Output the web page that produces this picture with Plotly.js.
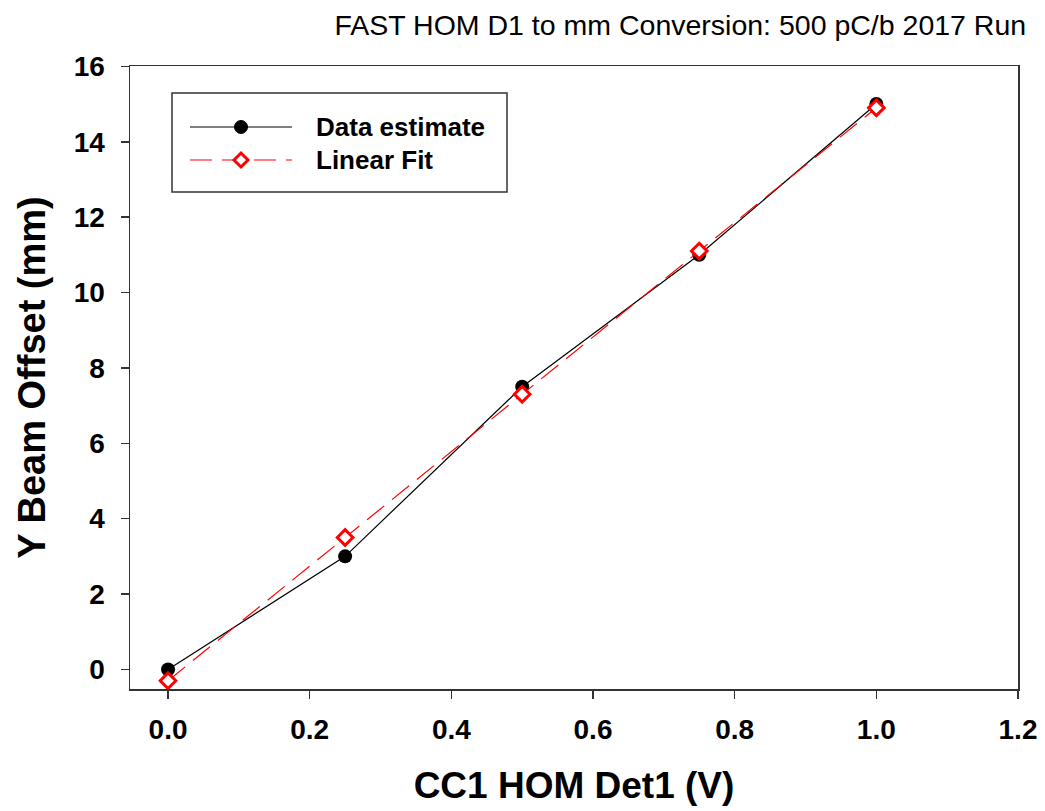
<!DOCTYPE html>
<html>
<head>
<meta charset="utf-8">
<script src="https://cdn.plot.ly/plotly-3.0.1.min.js"></script>
<style>
  html, body { margin: 0; padding: 0; background: #fff; }
  #chart { width: 1045px; height: 811px; }
</style>
</head>
<body>
<div id="chart"></div>
<script>
// ---- data ----
const xValues = [0.0, 0.25, 0.5, 0.75, 1.0];
const dataEstimate = [0.0, 3.0, 7.5, 11.0, 15.0];
const linearFit = [-0.3, 3.5, 7.3, 11.1, 14.9];
const seriesNames = ['Data estimate', 'Linear Fit'];
const xTickVals = [0.0, 0.2, 0.4, 0.6, 0.8, 1.0, 1.2];
const xTickText = ['0.0', '0.2', '0.4', '0.6', '0.8', '1.0', '1.2'];
const yTickVals = [0, 2, 4, 6, 8, 10, 12, 14, 16];
const chartTitle = 'FAST HOM D1 to mm Conversion: 500 pC/b 2017 Run';
const xTitle = 'CC1 HOM Det1 (V)';
const yTitle = 'Y Beam Offset (mm)';

// ---- layout geometry ----
const W = 1045, H = 811;
const M = { l: 130, r: 27, t: 66, b: 122 };
const PW = W - M.l - M.r, PH = H - M.t - M.b;
const px = x => (x - M.l) / PW;       // pixel -> paper x
const py = y => (H - M.b - y) / PH;   // pixel -> paper y
const FONT = 'Liberation Sans, Arial, Helvetica, sans-serif';

const traces = [
  {
    x: xValues, y: dataEstimate, name: seriesNames[0],
    type: 'scatter', mode: 'lines+markers', showlegend: false,
    line: { color: '#000000', width: 1.2 },
    marker: { symbol: 'circle', size: 14, color: '#000000' }
  },
  {
    x: xValues, y: linearFit, name: seriesNames[1],
    type: 'scatter', mode: 'lines+markers', showlegend: false,
    line: { color: '#ff0000', width: 1.2, dash: '22px,10px' },
    marker: { symbol: 'diamond', size: 12, color: '#ffffff', line: { color: '#ff0000', width: 3 } }
  }
];

// manual legend (box, sample lines, sample markers, texts)
const lg = { x0: 172, y0: 93, x1: 507, y1: 192, row1: 127, row2: 160, lx0: 190, lx1: 292, mx: 241, tx: 314 };
const shapes = [
  { type: 'rect', xref: 'paper', yref: 'paper', x0: px(lg.x0), x1: px(lg.x1), y0: py(lg.y1), y1: py(lg.y0),
    line: { color: '#333333', width: 1.5 }, fillcolor: 'rgba(255,255,255,1)' },
  { type: 'line', xref: 'paper', yref: 'paper', x0: px(lg.lx0), x1: px(lg.lx1), y0: py(lg.row1), y1: py(lg.row1),
    line: { color: '#000000', width: 1.2 } },
  { type: 'circle', xref: 'paper', yref: 'paper', x0: px(lg.mx - 6.5), x1: px(lg.mx + 6.5), y0: py(lg.row1 + 6.5), y1: py(lg.row1 - 6.5),
    line: { color: '#000000', width: 1 }, fillcolor: '#000000' },
  { type: 'line', xref: 'paper', yref: 'paper', x0: px(lg.lx0), x1: px(lg.lx1), y0: py(lg.row2), y1: py(lg.row2),
    line: { color: '#ff0000', width: 1.2, dash: '22px,10px' } },
  { type: 'path', xref: 'paper', yref: 'paper',
    path: `M ${px(lg.mx - 7)} ${py(lg.row2)} L ${px(lg.mx)} ${py(lg.row2 - 7)} L ${px(lg.mx + 7)} ${py(lg.row2)} L ${px(lg.mx)} ${py(lg.row2 + 7)} Z`,
    line: { color: '#ff0000', width: 3 }, fillcolor: '#ffffff' }
];
const annotations = [
  { xref: 'paper', yref: 'paper', x: px(lg.tx), y: py(lg.row1), xanchor: 'left', yanchor: 'middle', showarrow: false,
    text: seriesNames[0], font: { family: FONT, size: 26, weight: 'bold', color: '#000000' } },
  { xref: 'paper', yref: 'paper', x: px(lg.tx), y: py(lg.row2), xanchor: 'left', yanchor: 'middle', showarrow: false,
    text: seriesNames[1], font: { family: FONT, size: 26, weight: 'bold', color: '#000000' } }
];

const axisCommon = {
  showgrid: false, zeroline: false,
  showline: true, linecolor: '#333333', linewidth: 1.5, mirror: true,
  ticks: 'outside', ticklen: 8, tickwidth: 1.5, tickcolor: '#333333',
  tickfont: { family: FONT, size: 28, weight: 'bold', color: '#000000' }
};

const layout = {
  width: W, height: H,
  margin: M,
  paper_bgcolor: '#ffffff', plot_bgcolor: '#ffffff',
  showlegend: false,
  title: {
    text: chartTitle, x: 0.651, xanchor: 'center', xref: 'container',
    y: 1 - 25 / H, yanchor: 'middle', yref: 'container',
    font: { family: FONT, size: 28.5, color: '#000000' }
  },
  xaxis: Object.assign({}, axisCommon, {
    range: [-0.0537, 1.2], tickmode: 'array', tickvals: xTickVals, ticktext: xTickText,
    ticklabelstandoff: 7,
    title: { text: xTitle, standoff: 28, font: { family: FONT, size: 37, weight: 'bold', color: '#000000' } }
  }),
  yaxis: Object.assign({}, axisCommon, {
    range: [-0.52, 16.01], tickmode: 'array', tickvals: yTickVals,
    ticklabelstandoff: 10,
    title: { text: yTitle, standoff: 16, font: { family: FONT, size: 38, weight: 'bold', color: '#000000' } }
  }),
  shapes: shapes,
  annotations: annotations
};

Plotly.newPlot('chart', traces, layout, { displayModeBar: false, staticPlot: true });
</script>
</body>
</html>
